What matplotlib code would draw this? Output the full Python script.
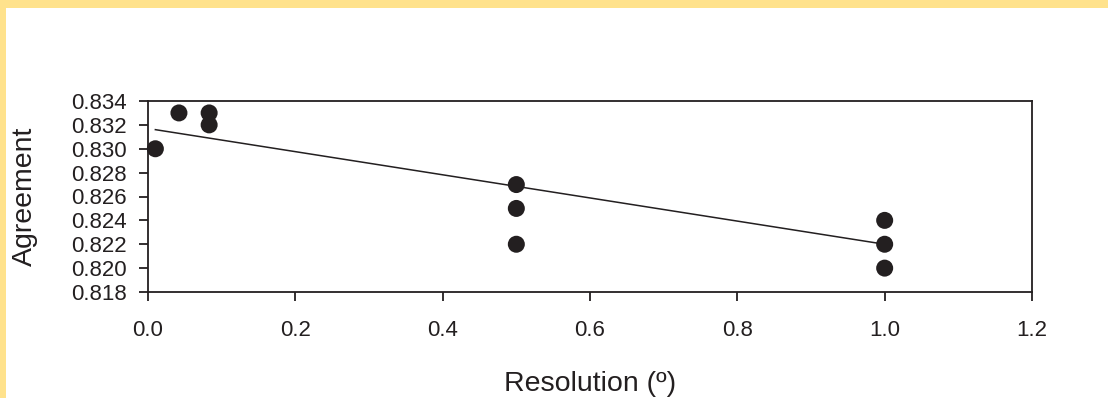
import numpy as np
import matplotlib
matplotlib.use("Agg")
import matplotlib.pyplot as plt
from matplotlib.patches import Rectangle

plt.rcParams['font.family'] = ['Liberation Sans', 'DejaVu Sans']

resolution = [0.01, 0.042, 0.083, 0.083, 0.5, 0.5, 0.5, 1.0, 1.0, 1.0]
agreement = [0.830, 0.833, 0.833, 0.832, 0.827, 0.825, 0.822, 0.824, 0.822, 0.820]
# regression line endpoints
fit_x = [0.01, 1.0]
fit_y = [0.8316, 0.8220]
x_ticks = [0.0, 0.2, 0.4, 0.6, 0.8, 1.0, 1.2]
y_ticks = [0.818, 0.820, 0.822, 0.824, 0.826, 0.828, 0.830, 0.832, 0.834]

ink = '#231f20'

fig = plt.figure(figsize=(11.08, 3.98), dpi=100)
fig.patch.set_facecolor('white')

# yellow frame strips on top and left
fig.patches.append(Rectangle((0, 1 - 8 / 398), 1, 8 / 398, transform=fig.transFigure,
                             facecolor='#ffe28c', edgecolor='none', zorder=0))
fig.patches.append(Rectangle((0, 0), 6 / 1108, 1, transform=fig.transFigure,
                             facecolor='#ffe28c', edgecolor='none', zorder=0))

ax = fig.add_axes([148 / 1108, 1 - 292 / 398, 884 / 1108, 191 / 398])

ax.plot(fit_x, fit_y, color=ink, linewidth=1.1, zorder=2)
ax.scatter(resolution, agreement, s=150, color=ink, zorder=3, clip_on=False,
           edgecolors='none')

ax.set_xlim(0, 1.2)
ax.set_ylim(0.818, 0.834)
ax.set_xticks(x_ticks)
ax.set_xticklabels([f'{v:.1f}' for v in x_ticks])
ax.set_yticks(y_ticks)
ax.set_yticklabels([f'{v:.3f}' for v in y_ticks])

for s in ax.spines.values():
    s.set_color(ink)
    s.set_linewidth(1.3)

ax.tick_params(direction='out', length=6.5, width=1.3, color=ink, labelcolor=ink,
               labelsize=16, top=False, right=False)
ax.tick_params(axis='x', pad=14)
ax.tick_params(axis='y', pad=9)

ax.set_xlabel('Resolution (º)', fontsize=20.5, color=ink)
ax.xaxis.set_label_coords(0.5, -0.415)
ax.set_ylabel('Agreement', fontsize=20.5, color=ink)
ax.yaxis.set_label_coords(-0.124, 0.5)

fig.savefig('out.png', dpi=100)
